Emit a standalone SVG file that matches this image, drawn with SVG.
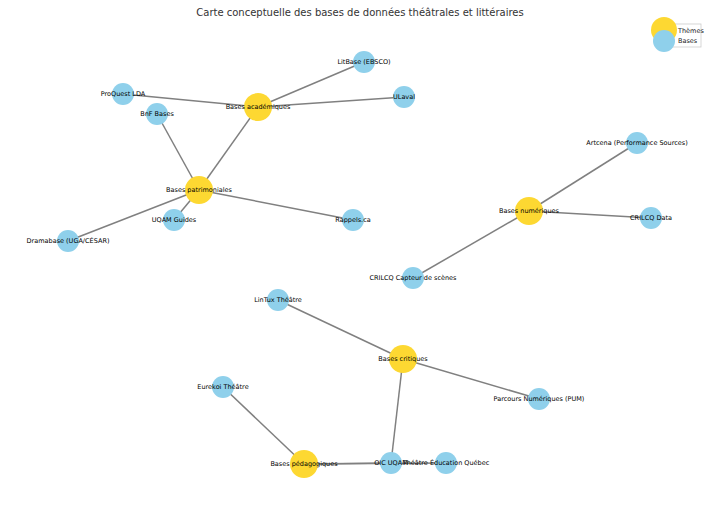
<svg xmlns="http://www.w3.org/2000/svg" width="720" height="514" viewBox="0 0 720 514">
<style>
.e{stroke:#808080;stroke-width:1.5;fill:none}
.t{fill:#fdd832}
.b{fill:#8fd0eb}
.l{font-family:"DejaVu Sans",sans-serif;font-size:6.5px;fill:#000;text-anchor:middle;dominant-baseline:central}
.title{font-family:"DejaVu Sans",sans-serif;font-size:10px;fill:#333;text-anchor:middle}
.lg{font-family:"DejaVu Sans",sans-serif;font-size:6.5px;fill:#222}
</style>
<rect width="720" height="514" fill="#fff"/>
<text class="title" x="360" y="16">Carte conceptuelle des bases de données théâtrales et littéraires</text>
<g id="edges">
<line class="e" x1="258" y1="107" x2="364" y2="62"/>
<line class="e" x1="258" y1="107" x2="404" y2="97"/>
<line class="e" x1="258" y1="107" x2="123" y2="94"/>
<line class="e" x1="258" y1="107" x2="199" y2="190"/>
<line class="e" x1="199" y1="190" x2="157" y2="114"/>
<line class="e" x1="199" y1="190" x2="174" y2="220"/>
<line class="e" x1="199" y1="190" x2="68" y2="241"/>
<line class="e" x1="199" y1="190" x2="353" y2="220"/>
<line class="e" x1="529" y1="211" x2="637" y2="143"/>
<line class="e" x1="529" y1="211" x2="651" y2="218"/>
<line class="e" x1="529" y1="211" x2="413" y2="278"/>
<line class="e" x1="403" y1="359" x2="278" y2="300"/>
<line class="e" x1="403" y1="359" x2="539" y2="399"/>
<line class="e" x1="403" y1="359" x2="391" y2="463"/>
<line class="e" x1="304" y1="464" x2="223" y2="387"/>
<line class="e" x1="304" y1="464" x2="391" y2="463"/>
<line class="e" x1="304" y1="464" x2="446" y2="463"/>
</g>
<g id="n-academiques"><circle class="t" cx="258" cy="107" r="14"/><text class="l" x="258" y="107">Bases académiques</text></g>
<g id="n-patrimoniales"><circle class="t" cx="199" cy="190" r="14"/><text class="l" x="199" y="190">Bases patrimoniales</text></g>
<g id="n-numeriques"><circle class="t" cx="529" cy="211" r="14"/><text class="l" x="529" y="211">Bases numériques</text></g>
<g id="n-critiques"><circle class="t" cx="403" cy="359" r="14"/><text class="l" x="403" y="359">Bases critiques</text></g>
<g id="n-pedagogiques"><circle class="t" cx="304" cy="464" r="14"/><text class="l" x="304" y="464">Bases pédagogiques</text></g>
<g id="n-litbase"><circle class="b" cx="364" cy="62" r="11"/><text class="l" x="364" y="62">LitBase (EBSCO)</text></g>
<g id="n-proquest"><circle class="b" cx="123" cy="94" r="11"/><text class="l" x="123" y="94">ProQuest LDA</text></g>
<g id="n-ulaval"><circle class="b" cx="404" cy="97" r="11"/><text class="l" x="404" y="97">ULaval</text></g>
<g id="n-bnf"><circle class="b" cx="157" cy="114" r="11"/><text class="l" x="157" y="114">BnF Bases</text></g>
<g id="n-uqamguides"><circle class="b" cx="174" cy="220" r="11"/><text class="l" x="174" y="220">UQAM Guides</text></g>
<g id="n-dramabase"><circle class="b" cx="68" cy="241" r="11"/><text class="l" x="68" y="241">Dramabase (UGA/CÉSAR)</text></g>
<g id="n-rappels"><circle class="b" cx="353" cy="220" r="11"/><text class="l" x="353" y="220">Rappels.ca</text></g>
<g id="n-artcena"><circle class="b" cx="637" cy="143" r="11"/><text class="l" x="637" y="143">Artcena (Performance Sources)</text></g>
<g id="n-crilcqdata"><circle class="b" cx="651" cy="218" r="11"/><text class="l" x="651" y="218">CRILCQ Data</text></g>
<g id="n-capteur"><circle class="b" cx="413" cy="278" r="11"/><text class="l" x="413" y="278">CRILCQ Capteur de scènes</text></g>
<g id="n-lintux"><circle class="b" cx="278" cy="300" r="11"/><text class="l" x="278" y="300">LinTux Théâtre</text></g>
<g id="n-parcours"><circle class="b" cx="539" cy="399" r="11"/><text class="l" x="539" y="399">Parcours Numériques (PUM)</text></g>
<g id="n-eurekoi"><circle class="b" cx="223" cy="387" r="11"/><text class="l" x="223" y="387">Eurekoi Théâtre</text></g>
<g id="n-oic"><circle class="b" cx="391" cy="463" r="11"/><text class="l" x="391" y="463">OIC UQAM</text></g>
<g id="n-teq"><circle class="b" cx="446" cy="463" r="11"/><text class="l" x="446" y="463">Théâtre Éducation Québec</text></g>
<g id="legend">
<rect x="663" y="24" width="38" height="23" fill="#fff" stroke="#ccc" stroke-width="0.8"/>
<circle class="t" cx="664" cy="30" r="13"/>
<circle class="b" cx="664" cy="41" r="11"/>
<text class="lg" x="678" y="33">Thèmes</text>
<text class="lg" x="678" y="43">Bases</text>
</g>
</svg>
